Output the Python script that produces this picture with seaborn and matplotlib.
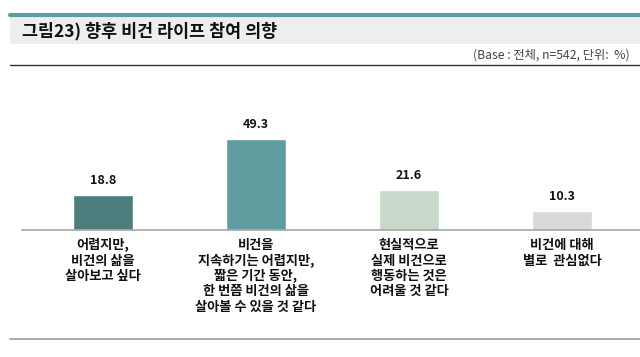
import pandas as pd
import numpy as np

import seaborn as sns
import matplotlib.pyplot as plt
from matplotlib.lines import Line2D
from matplotlib.patches import Rectangle

categories = ['어렵지만,\n비건의 삶을\n살아보고 싶다',
              '비건을\n지속하기는 어렵지만,\n짧은 기간 동안,\n한 번쯤 비건의 삶을\n살아볼 수 있을 것 같다',
              '현실적으로\n실제 비건으로\n행동하는 것은\n어려울 것 같다',
              '비건에 대해\n별로  관심없다']
values = [18.8, 49.3, 21.6, 10.3]
bar_colors = ['#4e7d7e', '#5f9ca0', '#c8d8c9', '#d9d9d9']

title = '그림23) 향후 비건 라이프 참여 의향'
subtitle = '(Base : 전체, n=542, 단위:  %)'

sns.set_style('white')
plt.rcParams['font.family'] = ['Noto Sans CJK KR', 'DejaVu Sans']

W, H = 640, 357
fig = plt.figure(figsize=(W / 100, H / 100), dpi=100)

def fy(py):
    # pixel row from top -> figure fraction
    return 1 - py / H

# header decorations
fig.add_artist(Rectangle((10 / W, fy(44)), 630 / W, 27 / H, transform=fig.transFigure,
                         facecolor='#eeeeee', edgecolor='none'))
fig.add_artist(Line2D([10 / W, 1], [fy(15), fy(15)], transform=fig.transFigure,
                      color='#5f9ca0', lw=3))
fig.add_artist(Line2D([10 / W, 1], [fy(65), fy(65)], transform=fig.transFigure,
                      color='#333333', lw=1))
fig.add_artist(Line2D([10 / W, 1], [fy(339), fy(339)], transform=fig.transFigure,
                      color='#999999', lw=1.2))
fig.text(22 / W, fy(31), title, fontsize=12.5, fontweight='bold', va='center', ha='left',
         color='#111111')
fig.text(630 / W, fy(55), subtitle, fontsize=8.8, va='center', ha='right', color='#444444')

# bar area: baseline at y=230px, x from 22 to 640px
ax = fig.add_axes([22 / W, fy(230), 618 / W, 130 / H])
df = pd.DataFrame({'cat': categories, 'val': values})
sns.barplot(data=df, x='cat', y='val', hue='cat', palette=bar_colors, legend=False,
            width=0.39, saturation=1, ax=ax)

ax.set_xlim((22 - 103) / 153, (640 - 103) / 153)
ax.set_ylim(0, 130 / 1.846)
for c in ax.containers:
    ax.bar_label(c, fmt='%.1f', padding=6, fontsize=9, fontweight='bold', color='#111111')

ax.set_xlabel('')
ax.set_ylabel('')
ax.set_yticks([])
ax.tick_params(axis='x', length=0, pad=6)
for lab in ax.get_xticklabels():
    lab.set_fontsize(9.5)
    lab.set_fontweight('bold')
    lab.set_linespacing(1.12)
    lab.set_color('#111111')
sns.despine(ax=ax, left=True)
ax.spines['bottom'].set_color('#a6a6a6')
ax.spines['bottom'].set_linewidth(1.2)
ax.patch.set_alpha(0)

fig.savefig('out.png', dpi=100)
